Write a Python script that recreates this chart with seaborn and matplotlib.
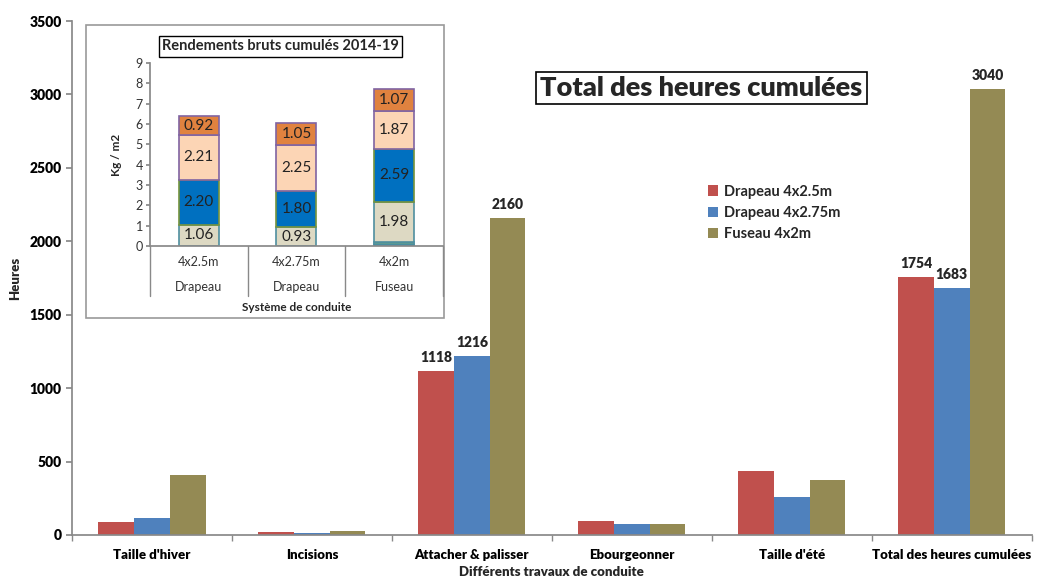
import matplotlib
matplotlib.use('Agg')
import matplotlib.pyplot as plt
from matplotlib.patches import Rectangle
import seaborn as sns
import pandas as pd
import numpy as np

# Heures de travail par poste
travaux = ["Taille d'hiver", "Incisions", "Attacher & palisser", "Ebourgeonner",
           "Taille d'été", "Total des heures cumulées"]
systemes = ["Drapeau 4x2.5m", "Drapeau 4x2.75m", "Fuseau 4x2m"]
heures_drapeau_25 = [86, 19, 1118, 98, 433, 1754]
heures_drapeau_275 = [116, 15, 1216, 77, 259, 1683]
heures_fuseau = [406, 24, 2160, 75, 375, 3040]
travaux_etiquetes = ["Attacher & palisser", "Total des heures cumulées"]
couleurs = ['#C0504D', '#4F81BD', '#948A54']

# Rendements bruts cumulés (encart)
conduite = ['4x2.5m', '4x2.75m', '4x2m']
type_conduite = ['Drapeau', 'Drapeau', 'Fuseau']
rdt_c1 = [0.0, 0.0, 0.08]
rdt_c2 = [0.0, 0.0, 0.12]
rdt_c3 = [1.06, 0.93, 1.98]
rdt_c4 = [2.20, 1.80, 2.59]
rdt_c5 = [2.21, 2.25, 1.87]
rdt_c6 = [0.92, 1.05, 1.07]
couches = [rdt_c1, rdt_c2, rdt_c3, rdt_c4, rdt_c5, rdt_c6]
couches_etiquetees = [False, False, True, True, True, True]
couleurs_couches = ['#4BACC6', '#92D050', '#DDD9C3', '#0070C0', '#FCD5B5', '#E0823F']
bords_couches = ['#31859C', '#4F8FA0', '#4F8FA0', '#77933C', '#8064A2', '#8064A2']

sns.set_theme(style='white')
plt.rcParams['font.family'] = ['Lato', 'DejaVu Sans']

df = pd.DataFrame({
    'travail': travaux * 3,
    'systeme': np.repeat(systemes, len(travaux)),
    'heures': heures_drapeau_25 + heures_drapeau_275 + heures_fuseau,
})

fig = plt.figure(figsize=(10.4, 5.79), dpi=100)
ax = fig.add_axes([0.0692, 0.076, 0.9228, 0.8877])

sns.barplot(data=df, x='travail', y='heures', hue='systeme', palette=couleurs,
            width=0.67, saturation=1, ax=ax, errorbar=None, linewidth=0, edgecolor='none')

for cont in ax.containers:
    labels = []
    for trav, bar in zip(travaux, cont):
        labels.append(f'{int(round(bar.get_height()))}' if trav in travaux_etiquetes else '')
    ax.bar_label(cont, labels=labels, padding=5, fontsize=10, fontweight='heavy')

ax.set_xlim(-0.5, len(travaux) - 0.5)
ax.set_ylim(0, 3500)
ax.set_yticks(np.arange(0, 3501, 500))
ax.set_xticks(np.arange(-0.5, len(travaux)), minor=True)
ax.tick_params(axis='x', which='major', length=0, labelsize=9.5, pad=10, labelcolor='black')
ax.tick_params(axis='x', which='minor', length=4, color='#898989', direction='out', bottom=True)
ax.tick_params(axis='y', length=4, color='#898989', direction='out', left=True, labelsize=10,
               labelcolor='black')
for lab in ax.get_xticklabels() + ax.get_yticklabels():
    lab.set_fontweight('heavy')
sns.despine(ax=ax)
for s in ['left', 'bottom']:
    ax.spines[s].set_color('#898989')
ax.set_xlabel('Différents travaux de conduite', fontsize=9.5, fontweight='heavy', labelpad=4)
ax.set_ylabel('Heures', fontsize=9.5, fontweight='heavy', labelpad=6)

ax.legend(loc='upper left', bbox_to_anchor=(0.668, 0.704), bbox_transform=fig.transFigure,
          frameon=False, handlelength=0.7, handleheight=0.7,
          handletextpad=0.4, labelspacing=0.5, prop={'weight': 'bold', 'size': 10.5})

fig.text(0.6745, 0.848, 'Total des heures cumulées', fontsize=19.5, fontweight='heavy',
         ha='center', va='center',
         bbox=dict(boxstyle='square,pad=0.16', fc='white', ec='black', lw=1.2))

# Encart
fig.patches.append(Rectangle((0.0827, 0.4508), 0.344, 0.506, transform=fig.transFigure,
                             fc='white', ec='#9A9A9A', lw=1.2, zorder=5))
axi = fig.add_axes([0.1442, 0.575, 0.2817, 0.316], zorder=6)
axi.patch.set_alpha(0)
x = np.arange(len(conduite))
bas = np.zeros(len(conduite))
for vals, coul, bord, etiq in zip(couches, couleurs_couches, bords_couches, couches_etiquetees):
    vals = np.array(vals)
    axi.bar(x, vals, bottom=bas, width=0.41, color=coul, edgecolor=bord, linewidth=1.2)
    if etiq:
        for xi, b, v in zip(x, bas, vals):
            axi.text(xi, b + v / 2, f'{v:.2f}', ha='center', va='center', fontsize=11,
                     color='#222222')
    bas = bas + vals

axi.set_xlim(-0.5, len(conduite) - 0.5)
axi.set_ylim(0, 9)
axi.set_yticks(range(0, 10))
axi.set_xticks([])
axi.tick_params(axis='y', length=3, color='#898989', direction='out', left=True,
                labelsize=9, labelcolor='#333333', pad=2)
sns.despine(ax=axi)
axi.spines['left'].set_color('#898989')
axi.spines['bottom'].set_color('#898989')
for xb in np.arange(-0.5, len(conduite)):
    axi.plot([xb, xb], [0, -0.273 * 9], color='#898989', lw=1, clip_on=False)
for xi, c, t in zip(x, conduite, type_conduite):
    axi.text(xi, -0.087 * 9, c, ha='center', va='center', fontsize=9, color='#333333')
    axi.text(xi, -0.224 * 9, t, ha='center', va='center', fontsize=9, color='#333333')
axi.text(1, -0.335 * 9, 'Système de conduite', ha='center', va='center', fontsize=8.5,
         fontweight='bold')
axi.set_ylabel('Kg / m2', fontsize=8.5, fontweight='bold', labelpad=10)
fig.text(0.2695, 0.92, 'Rendements bruts cumulés 2014-19', fontsize=10.5, fontweight='bold',
         ha='center', va='center', zorder=7,
         bbox=dict(boxstyle='square,pad=0.22', fc='white', ec='black', lw=1))

fig.savefig('out.png', dpi=100)
